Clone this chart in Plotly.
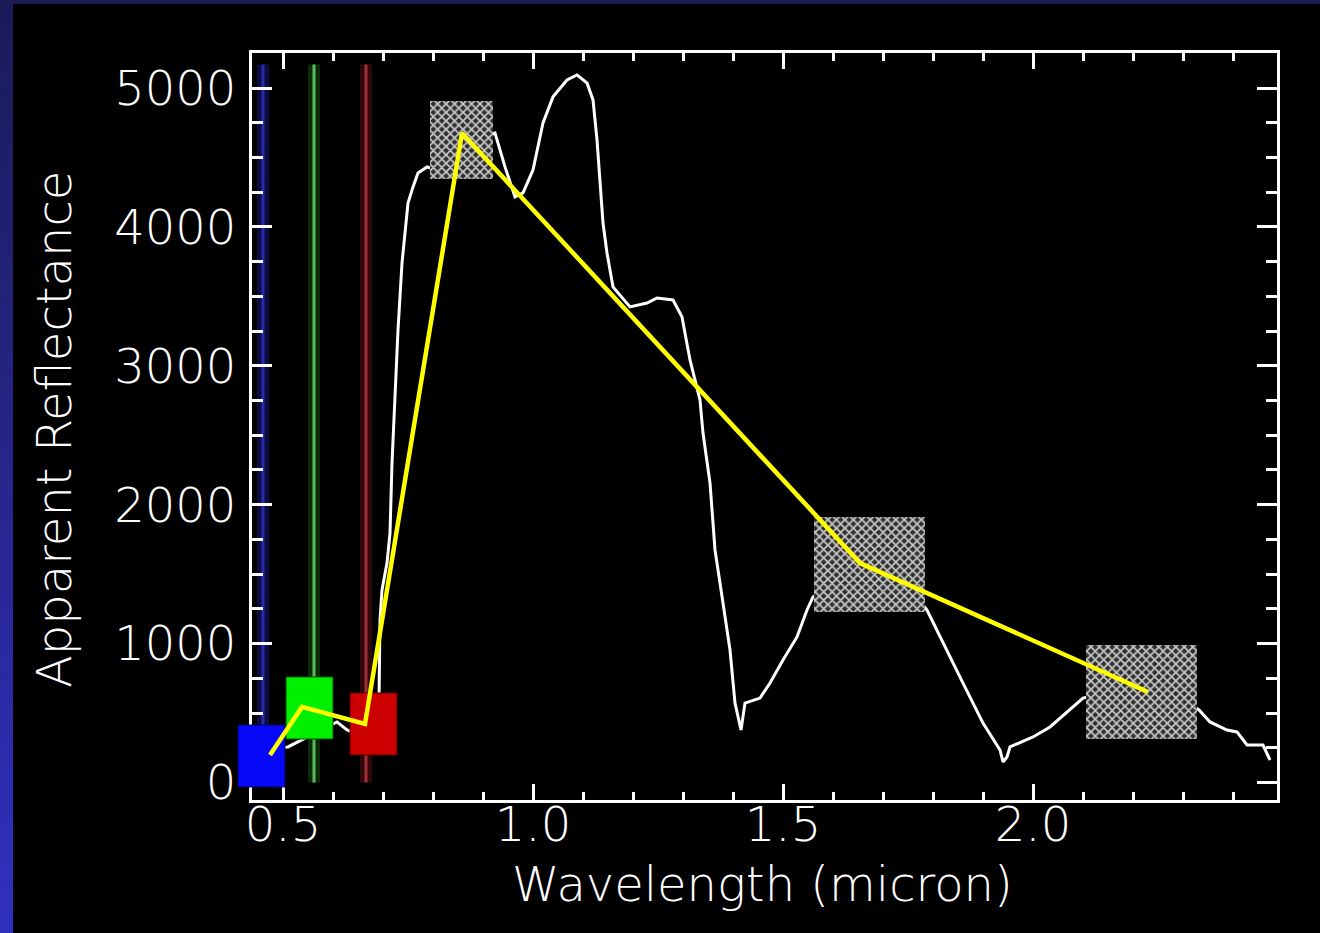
import plotly.graph_objects as go

# ---------------- data ----------------
spec_x = [0.45, 0.51, 0.55, 0.608, 0.628, 0.654, 0.685, 0.692, 0.694, 0.698, 0.708, 0.714,
          0.718, 0.724, 0.730, 0.738, 0.744, 0.750, 0.760, 0.770, 0.788, 0.794, 0.83, 0.87,
          0.90, 0.924, 0.944, 0.964, 0.980, 1.000, 1.020, 1.040, 1.068, 1.088, 1.108, 1.120,
          1.128, 1.134, 1.140, 1.148, 1.160, 1.194, 1.228, 1.248, 1.280, 1.298, 1.314, 1.334,
          1.340, 1.354, 1.364, 1.374, 1.384, 1.394, 1.404, 1.416, 1.424, 1.454, 1.474, 1.500,
          1.528, 1.548, 1.560, 1.62, 1.68, 1.74, 1.788, 1.820, 1.860, 1.900, 1.934, 1.940,
          1.948, 1.954, 2.000, 2.034, 2.100, 2.16, 2.24, 2.30, 2.332, 2.354, 2.388, 2.408,
          2.428, 2.460, 2.474]
spec_y = [250, 256, 330, 436, 378, 340, 360, 594, 1170, 1386, 1580, 1796,
          2300, 2826, 3258, 3740, 3956, 4172, 4288, 4388, 4432, 4424, 4470, 4560,
          4640, 4676, 4432, 4216, 4245, 4410, 4748, 4936, 5058, 5094, 5036, 4914,
          4626, 4288, 4028, 3812, 3568, 3424, 3452, 3488, 3474, 3352, 3042, 2754,
          2516, 2156, 1674, 1436, 1192, 954, 572, 378, 572, 608, 716, 882,
          1048, 1242, 1336, 1480, 1540, 1460, 1242, 1004, 716, 428, 234, 148,
          184, 256, 328, 400, 608, 660, 650, 600, 522, 436, 378, 364,
          270, 270, 162]

band_line_x = [0.460, 0.562, 0.666]          # blue, green, red channel lines
band_line_top = 5170

box_x0 = [0.410, 0.506, 0.634, 0.794, 1.562, 2.106]
box_x1 = [0.504, 0.600, 0.728, 0.920, 1.784, 2.328]
box_y0 = [-32, 313, 198, 4345, 1228, 313]
box_y1 = [414, 760, 645, 4907, 1912, 990]

yellow_x = [0.474, 0.538, 0.664, 0.858, 1.654, 2.230]
yellow_y = [198, 544, 421, 4676, 1580, 652]

x_tick_vals = [0.5, 1.0, 1.5, 2.0]
x_tick_text = ["0.5", "1.0", "1.5", "2.0"]
y_tick_vals = [0, 1000, 2000, 3000, 4000, 5000]
y_tick_text = ["0", "1000", "2000", "3000", "4000", "5000"]

x_title = "Wavelength (micron)"
y_title = "Apparent Reflectance"

# ---------------- layout geometry ----------------
W, H = 1320, 933
ML, MR, MT, MB = 200, 43, 53, 133
AX_L = 252
XR = [0.438, 2.488]
YR = [-126, 5252]
plot_w = W - ML - MR
plot_h = H - MT - MB
dom0 = (AX_L - ML) / plot_w
sx = (XR[1] - XR[0]) / ((1 - dom0) * plot_w)
XR2 = [XR[0] - (AX_L - ML) * sx, XR[1]]

FONT = dict(family="DejaVu Sans", size=48, color="white", weight=200)


def pxx(px):
    return (px - ML) / plot_w


def pxy(py):
    return (H - MB - py) / plot_h


fig = go.Figure()

# channel lines (halo + core)
line_cols = [("#0c0c40", "#2a2ab0"), ("#0a2a0a", "#5cb85c"), ("#300808", "#a0303c")]
for bx, (halo, core) in zip(band_line_x, line_cols):
    fig.add_trace(go.Scatter(x=[bx, bx], y=[0, band_line_top], mode="lines",
                             line=dict(color=halo, width=12), hoverinfo="skip",
                             showlegend=False, xaxis="x", yaxis="y"))
    fig.add_trace(go.Scatter(x=[bx, bx], y=[0, band_line_top], mode="lines",
                             line=dict(color=core, width=3), hoverinfo="skip",
                             showlegend=False, xaxis="x", yaxis="y"))

# spectrum
fig.add_trace(go.Scatter(x=spec_x, y=spec_y, mode="lines",
                         line=dict(color="white", width=3),
                         showlegend=False, xaxis="x", yaxis="y"))

# boxes (drawn on a wider, invisible overlay axis so they may poke out of the frame)
box_styles = [dict(fillcolor="#0808f8", line=dict(color="#000060", width=1)),
              dict(fillcolor="#00f000", line=dict(color="#005000", width=1)),
              dict(fillcolor="#cc0000", line=dict(color="#500000", width=1)),
              None, None, None]
for x0, x1, y0, y1, st in zip(box_x0, box_x1, box_y0, box_y1, box_styles):
    xs = [x0, x1, x1, x0, x0]
    ys = [y0, y0, y1, y1, y0]
    if st is not None:
        fig.add_trace(go.Scatter(x=xs, y=ys, mode="lines", fill="toself",
                                 fillcolor=st["fillcolor"], line=st["line"],
                                 showlegend=False, xaxis="x2", yaxis="y2"))
    else:
        fig.add_trace(go.Scatter(x=xs, y=ys, mode="lines", fill="toself",
                                 fillcolor="#808080",
                                 fillpattern=dict(shape="x", size=6, solidity=0.5,
                                                  fgcolor="#c8c8c8", bgcolor="#303030",
                                                  fillmode="replace"),
                                 line=dict(color="rgba(0,0,0,0)", width=0),
                                 showlegend=False, xaxis="x2", yaxis="y2"))

# yellow connecting line
fig.add_trace(go.Scatter(x=yellow_x, y=yellow_y, mode="lines",
                         line=dict(color="#ffff00", width=4.5),
                         showlegend=False, xaxis="x2", yaxis="y2"))

# background decoration: left gradient strip and top strip
shapes = []
N = 40
c_top = (27, 27, 88)
c_bot = (48, 48, 192)
for i in range(N):
    t = (i + 0.5) / N
    c = tuple(int(round(a + (b - a) * t)) for a, b in zip(c_top, c_bot))
    shapes.append(dict(type="rect", xref="paper", yref="paper", layer="below",
                       x0=pxx(0), x1=pxx(13), y0=pxy(H * i / N), y1=pxy(H * (i + 1) / N + 0.5),
                       fillcolor="rgb(%d,%d,%d)" % c, line=dict(width=0)))
shapes.append(dict(type="rect", xref="paper", yref="paper", layer="below",
                   x0=pxx(0), x1=pxx(W), y0=pxy(0), y1=pxy(4),
                   fillcolor="rgb(27,27,85)", line=dict(width=0)))

# axis titles
annotations = [
    dict(text=x_title, xref="paper", yref="paper", x=pxx(762), y=pxy(884),
         xanchor="center", yanchor="middle", showarrow=False, font=FONT),
    dict(text=y_title, xref="paper", yref="paper", x=pxx(54), y=pxy(430),
         xanchor="center", yanchor="middle", showarrow=False, textangle=-90, font=FONT),
]

axis_common = dict(showline=True, linecolor="white", linewidth=3, mirror="allticks",
                   ticks="inside", tickcolor="white", tickwidth=2.5,
                   showgrid=False, zeroline=False, tickfont=FONT)

fig.update_layout(
    width=W, height=H,
    margin=dict(l=ML, r=MR, t=MT, b=MB, pad=0),
    paper_bgcolor="black", plot_bgcolor="rgba(0,0,0,0)",
    showlegend=False,
    shapes=shapes,
    annotations=annotations,
    xaxis=dict(domain=[dom0, 1], range=XR, tickvals=x_tick_vals, ticktext=x_tick_text,
               ticklen=16, ticklabelstandoff=-20,
               minor=dict(dtick=0.1, tick0=0.5, ticklen=8, ticks="inside",
                          tickcolor="white", tickwidth=2.5),
               anchor="y", **axis_common),
    yaxis=dict(domain=[0, 1], range=YR, tickvals=y_tick_vals, ticktext=y_tick_text,
               ticklen=20, ticklabelstandoff=3,
               minor=dict(dtick=250, tick0=0, ticklen=11, ticks="inside",
                          tickcolor="white", tickwidth=2.5),
               anchor="x", **axis_common),
    xaxis2=dict(domain=[0, 1], range=XR2, visible=False, anchor="y2"),
    yaxis2=dict(domain=[0, 1], range=YR, visible=False, anchor="x2"),
)

fig.write_html("out.html")
